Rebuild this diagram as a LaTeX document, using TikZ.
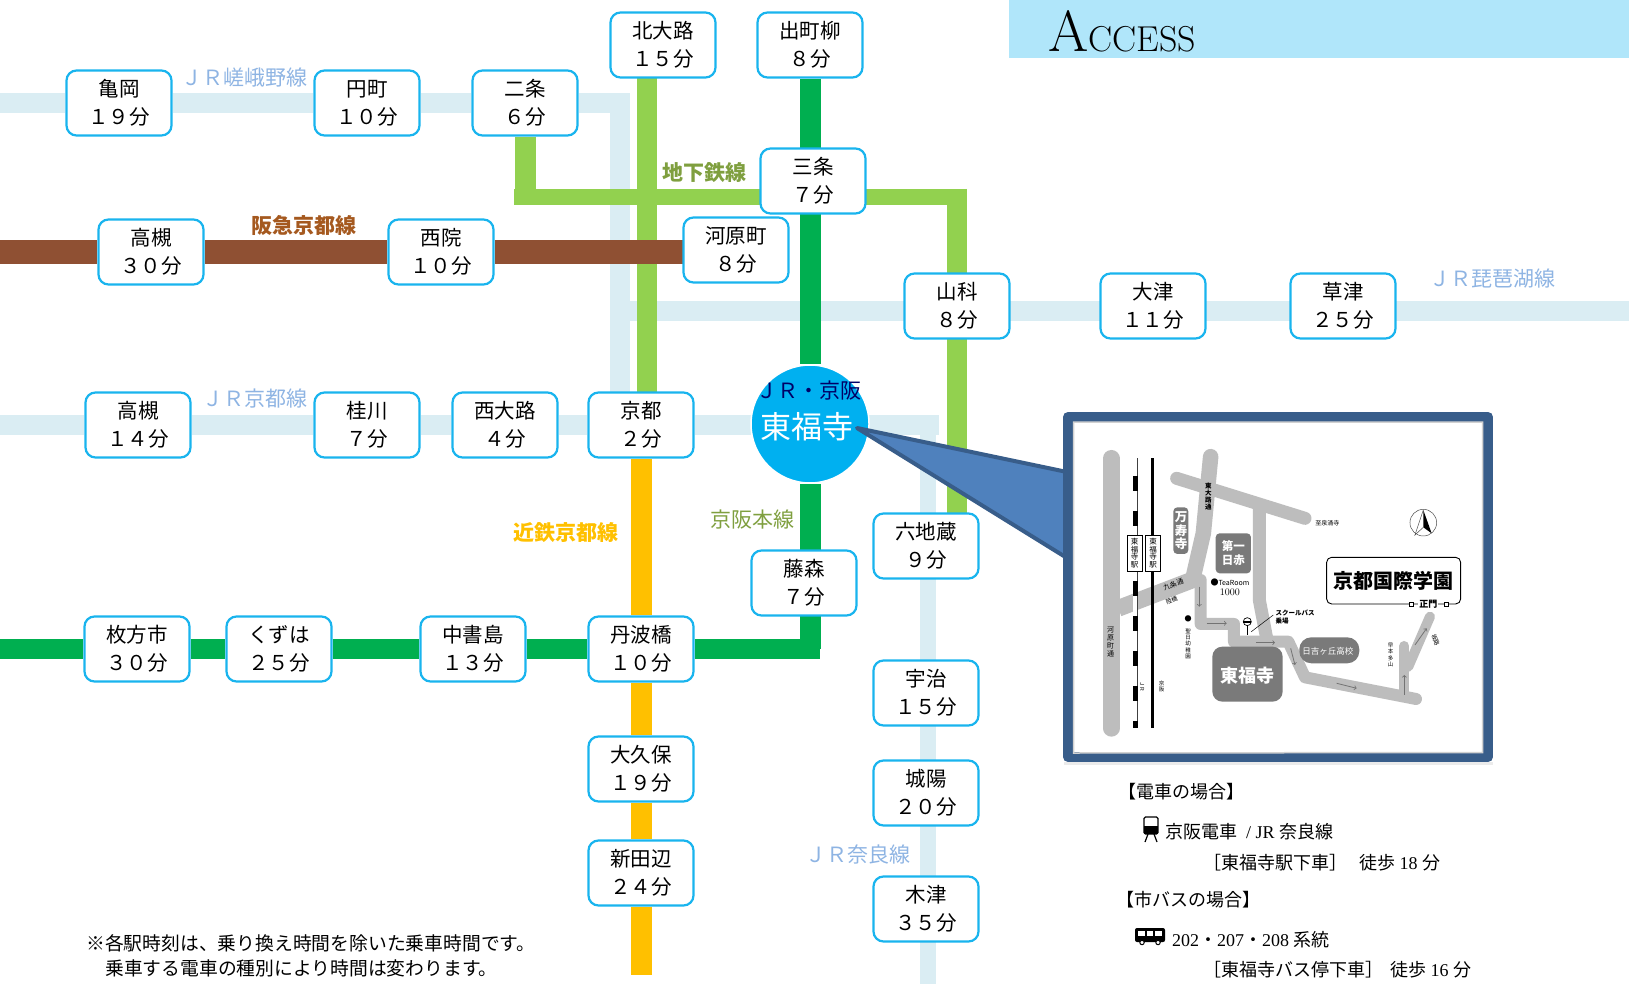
\documentclass[tikz,border=0pt]{standalone}
\usepackage{fontspec}
\usepackage{xcolor}
\newfontfamily\cjk{Noto Sans CJK JP}
\newfontfamily\lat{Liberation Serif}
\usetikzlibrary{positioning,backgrounds}
\definecolor{title-color}{HTML}{B0E6FA}
\definecolor{station-color}{HTML}{19B4EE}
\definecolor{circle-color}{HTML}{00B0F0}
\definecolor{jr-color}{HTML}{DAEDF3}
\definecolor{jrtext-color}{HTML}{8EB4E3}
\definecolor{subway-color}{HTML}{92D14F}
\definecolor{subtext-color}{HTML}{7F9F3F}
\definecolor{keihan-color}{HTML}{00AF50}
\definecolor{hankyu-color}{HTML}{8F5033}
\definecolor{hantext-color}{HTML}{A5591F}
\definecolor{kintetsu-color}{HTML}{FFC000}
\definecolor{frame-color}{HTML}{385D8A}
\definecolor{callout-color}{HTML}{4F81BD}
\definecolor{road-color}{HTML}{BDBDBD}
\definecolor{block-color}{HTML}{7A7A7A}
\tikzset{
  station/.style={draw=station-color, line width=2.2pt, fill=white, rounded corners=10pt,
    minimum width=105pt, minimum height=65pt, align=center, inner sep=0pt,
    font=\cjk\fontsize{20.5}{28}\selectfont},
  linelabel/.style={font=\cjk\fontsize{21}{24}\selectfont, inner sep=0pt},
  infotext/.style={anchor=west, inner sep=0pt, font=\cjk\fontsize{18}{22}\selectfont},
  notetext/.style={anchor=west, inner sep=0pt, font=\cjk\fontsize{18.8}{22}\selectfont},
  road/.style={draw=road-color, line width=#1},
  block/.style={fill=block-color, rounded corners=4pt},
  maplabel/.style={inner sep=0pt, align=center, font=\cjk\fontsize{#1}{#1}\selectfont},
  maparrow/.style={->, draw=black!55, line width=0.8pt},
}
\begin{document}
\begin{tikzpicture}[x=1pt, y=-1pt]
\useasboundingbox (0,0) rectangle (1629,984);

\fill[title-color] (1009,0) rectangle (1629,58);
\node(accesstitle) [anchor=base west, inner sep=0pt] at (1048,52)
  {\fontsize{58}{60}\selectfont A\fontsize{36}{38}\selectfont CCESS};

\begin{scope}[every node/.style={station}]
\node(kameoka) at (119,103) {亀岡\\１９分};
\node(enmachi) at (367,103) {円町\\１０分};
\node(nijo) at (525,103) {二条\\６分};
\node(kitaoji) at (663,45) {北大路\\１５分};
\node(demachi) at (810,45) {出町柳\\８分};
\node(sanjo) at (813,181) {三条\\７分};
\node(kawaramachi) at (736,250) {河原町\\８分};
\node(takatsukiH) at (151,252) {高槻\\３０分};
\node(saiin) at (441,252) {西院\\１０分};
\node(yamashina) at (957,306) {山科\\８分};
\node(otsu) at (1153,306) {大津\\１１分};
\node(kusatsu) at (1343,306) {草津\\２５分};
\node(takatsukiJ) at (138,425) {高槻\\１４分};
\node(katsura) at (367,425) {桂川\\７分};
\node(nishioji) at (505,425) {西大路\\４分};
\node(kyoto) at (641,425) {京都\\２分};
\node(rokujizo) at (926,546) {六地蔵\\９分};
\node(fujimori) at (804,583) {藤森\\７分};
\node(hirakata) at (137,649) {枚方市\\３０分};
\node(kuzuha) at (279,649) {くずは\\２５分};
\node(chushojima) at (473,649) {中書島\\１３分};
\node(tanbabashi) at (641,649) {丹波橋\\１０分};
\node(uji) at (926,693) {宇治\\１５分};
\node(joyo) at (926,793) {城陽\\２０分};
\node(okubo) at (641,769) {大久保\\１９分};
\node(shintanabe) at (641,873) {新田辺\\２４分};
\node(kizu) at (926,909) {木津\\３５分};
\end{scope}

\node(tofukuji) [circle, fill=circle-color, draw=white, line width=1.5pt, minimum size=118pt, inner sep=0pt] at (810,424) {};
\node(tofukujiA) [inner sep=0pt, text=blue!40!black, font=\cjk\fontsize{21}{22}\selectfont] at (809,391) {ＪＲ・京阪};
\node(tofukujiB) [inner sep=0pt, text=white, font=\cjk\fontsize{31}{33}\selectfont] at (807,427) {東福寺};

\coordinate(saganoW) at (0,103);
\coordinate(saganoC) at (620,103);
\coordinate(kyotoW) at (0,425);
\coordinate(kyotoE) at (939,425);
\coordinate(biwakoW) at (630,311);
\coordinate(biwakoE) at (1629,311);
\coordinate(naraN) at (928,416);
\coordinate(naraS) at (928,984);
\coordinate(karaN) at (647,70);
\coordinate(karaS) at (647,420);
\coordinate(tozaiW) at (514,197);
\coordinate(tozaiE) at (967,197);
\coordinate(tozaiC) at (525,205);
\coordinate(tozaiN) at (957,189);
\coordinate(tozaiS) at (957,520);
\coordinate(hankyuW) at (0,252);
\coordinate(hankyuE) at (720,252);
\coordinate(keihanW) at (0,649);
\coordinate(keihanC) at (810,649);
\coordinate(keihanE) at (820,649);
\coordinate(kintetsuS) at (641,975);

\begin{scope}[on background layer]
\draw[jr-color, line width=20pt] (saganoW) -- (kameoka) -- (enmachi) -- (nijo) -- (saganoC) -- (kyotoW -| saganoC);
\draw[jr-color, line width=20pt] (biwakoW) -- (biwakoE);
\draw[jr-color, line width=20pt] (kyotoW) -- (takatsukiJ) -- (katsura) -- (nishioji) -- (kyoto) -- (kyotoE);
\draw[jr-color, line width=16pt] (naraN) -- (naraS);
\draw[subway-color, line width=20pt] (karaN) -- (karaS);
\draw[subway-color, line width=21pt] (nijo) -- (tozaiC);
\draw[subway-color, line width=16pt] (tozaiW) -- (tozaiE);
\draw[subway-color, line width=20pt] (tozaiN) -- (tozaiS);
\draw[hankyu-color, line width=23pt] (hankyuW) -- (takatsukiH) -- (saiin) -- (hankyuE);
\draw[keihan-color, line width=21pt] (demachi) -- (tofukuji) -- (keihanC);
\draw[keihan-color, line width=20pt] (keihanW) -- (hirakata) -- (kuzuha) -- (chushojima) -- (tanbabashi) -- (keihanE);
\draw[kintetsu-color, line width=21pt] (kyoto) -- (tanbabashi) -- (okubo) -- (shintanabe) -- (kintetsuS);
\end{scope}

\node(sagano) [linelabel, text=jrtext-color] at (244,78) {ＪＲ嵯峨野線};
\node(biwako) [linelabel, text=jrtext-color] at (1492,279) {ＪＲ琵琶湖線};
\node(kyotoline) [linelabel, text=jrtext-color] at (255,399) {ＪＲ京都線};
\node(naraline) [linelabel, text=jrtext-color] at (858,855) {ＪＲ奈良線};
\node(hankyuline) [linelabel, text=hantext-color, font=\cjk\bfseries\fontsize{21}{24}\selectfont] at (304,225) {阪急京都線};
\node(subwayline) [linelabel, text=subtext-color, font=\cjk\bfseries\fontsize{21}{24}\selectfont] at (704,173) {地下鉄線};
\node(keihanline) [linelabel, text=subtext-color] at (752,520) {京阪本線};
\node(kintetsuline) [linelabel, text=kintetsu-color, font=\cjk\bfseries\fontsize{21}{24}\selectfont] at (566,533) {近鉄京都線};

\coordinate(tip) at (857,428);
\coordinate(tipU) at (1067,472);
\coordinate(tipL) at (1067,558);
\draw[draw=frame-color, fill=callout-color, line width=4pt, line join=round] (tip) -- (tipU) -- (tipL) -- cycle;

\fill[black!8] (1064,762) rectangle (1493,765);
\draw[draw=frame-color, fill=white, line width=10pt, line join=round] (1068,417) rectangle (1488,757);
\draw[draw=black!18, line width=1.5pt] (1073.5,753) -- (1073.5,422) -- (1482.5,422) -- (1482.5,752.5) -- cycle;

\begin{scope}[shift={(1040,400)}, x=0.3333pt, y=-0.3333pt]
% roads
\draw[road=16.7pt, line cap=round] (214,175) -- (214,985);
\draw[road=16.7pt] (235,625) -- (470,535);
\draw[road=15.5pt, line cap=round, line join=round] (460,530) -- (490,400) -- (512,170);
\draw[road=13pt, line cap=round] (410,235) -- (795,355);
\draw[road=13pt] (658,325) -- (658,600) -- (682,725);
\draw[road=12pt, line join=round, line cap=round] (482,540) -- (482,672) -- (582,672) -- (582,725) -- (745,725) -- (795,832) -- (1128,897);
\draw[road=10pt, line cap=round] (1093,890) -- (1093,738);
\draw[road=10pt, line cap=round] (1105,800) -- (1170,650);
\draw[maparrow] (478,560) -- (478,620);
\draw[maparrow] (500,670) -- (560,670);
\draw[maparrow] (648,728) -- (705,728);
\draw[maparrow] (752,745) -- (765,795);
\draw[maparrow] (890,850) -- (950,865);
\draw[maparrow] (1093,885) -- (1093,825);
\draw[maparrow] (1125,735) -- (1160,685);
% rails
\draw[black!75, line width=5pt] (285,175) -- (285,985);
\draw[white, line width=3.4pt] (285,175) -- (285,985);
\draw[black, line width=5pt, dash pattern=on 15pt off 20pt] (285,228) -- (285,985);
\draw[black, line width=3.2pt] (338,175) -- (338,985);
\node(stnjr) [draw, fill=white, minimum width=14.5pt, minimum height=36pt, line width=0.6pt, maplabel=7.5] at (284,459) {東\\福\\寺\\駅};
\node(stnkh) [draw, fill=white, minimum width=14.5pt, minimum height=36pt, line width=0.6pt, maplabel=7.5] at (339,459) {東\\福\\寺\\駅};
% blocks
\fill[block] (400,322) rectangle (445,462);
\fill[block] (527,400) rectangle (633,520);
\fill[block, rounded corners=10pt] (517,740) rectangle (728,905);
\fill[block, rounded corners=12pt] (778,712) rectangle (958,790);
\node(manju) [maplabel=12.5, text=white, font=\cjk\bfseries\fontsize{12.5}{13.5}\selectfont] at (423,392) {万\\寿\\寺};
\node(sekijuji) [maplabel=11.5, text=white, font=\cjk\bfseries\fontsize{11.5}{14.5}\selectfont] at (580,460) {第一\\日赤};
\node(mapto) [maplabel=18, text=white, font=\cjk\bfseries\fontsize{18}{18}\selectfont] at (622,826) {東福寺};
\node(hiyoshi) [maplabel=8.5, text=white] at (864,753) {日吉ヶ丘高校};
% school
\draw[black, line width=0.9pt, rounded corners=5pt] (860,472) rectangle (1262,612);
\node(gakuen) [maplabel=20, font=\cjk\bfseries\fontsize{20}{20}\selectfont] at (1062,544) {京都国際学園};
\node(seimon) [fill=white, maplabel=9, inner sep=1pt, font=\cjk\bfseries\fontsize{9}{9}\selectfont] at (1165,612) {正門};
\draw[fill=white, line width=0.7pt] (1109,606) rectangle (1121,618);
\draw[fill=white, line width=0.7pt] (1212,606) rectangle (1224,618);
% small labels
\node(sennyu) [maplabel=6] at (862,369) {至泉涌寺};
\node(higashioji) [maplabel=6.5, font=\cjk\bfseries\fontsize{6.5}{7}\selectfont] at (505,290) {東\\大\\路\\通};
\node(kujo) [maplabel=7, rotate=20] at (400,553) {九条通};
\node(rikkyo) [maplabel=6, rotate=20] at (395,602) {陸橋};
\node(kawaramachir) [maplabel=7, font=\cjk\fontsize{7}{8}\selectfont] at (212,727) {河\\原\\町\\通};
\node(jrmark) [maplabel=5.5, rotate=-90] at (306,860) {ＪＲ};
\node(keihanmark) [maplabel=5.5, font=\cjk\fontsize{5.5}{6}\selectfont] at (365,860) {京\\阪};
\node(tearoom) [maplabel=8, anchor=west, font=\fontsize{8}{9.5}\selectfont] at (511,562) {\cjk ●\fontsize{7}{8}\selectfont TeaRoom\\\fontsize{10}{10}\selectfont 1000};
\node(kindmark) [maplabel=7] at (444,657) {●};
\node(kinder) [maplabel=5.5, font=\cjk\fontsize{5.5}{6.2}\selectfont] at (444,732) {聖\\日\\幼\\稚\\園};
\node(schoolbus) [maplabel=6.5, anchor=west, align=left, font=\cjk\bfseries\fontsize{6.5}{8}\selectfont] at (706,650) {スクールバス\\乗場};
\node(honda) [maplabel=5.5, font=\cjk\fontsize{5.5}{6.2}\selectfont] at (1052,765) {早\\本\\多\\山};
\node(sakamichi) [maplabel=6, rotate=-70] at (1187,720) {坂路};
% bus stop
\draw[black, line width=0.7pt] (622,665) circle (12);
\fill[black] (610,662) rectangle (634,668);
\draw[black, line width=0.7pt] (622,677) -- (622,705);
\draw[black, line width=0.5pt] (634,695) -- (700,645);
% compass
\draw[black!70, line width=0.5pt] (1150,368) circle (40);
\draw[black!70, line width=0.5pt] (1150,330) -- (1125,405) -- (1150,382);
\fill[black] (1150,330) -- (1175,400) -- (1150,382) -- cycle;
\end{scope}

\node(deninfo) [infotext] at (1118,792) {【電車の場合】};
\node(deninfoA) [infotext] at (1165,832) {京阪電車{\lat\ \ /\ JR }奈良線};
\node(deninfoB) [infotext] at (1203,863) {［東福寺駅下車］\hspace{12pt}徒歩{\lat\ 18 }分};
\node(businfo) [infotext] at (1116,900) {【市バスの場合】};
\node(businfoA) [infotext] at (1172,940) {{\lat 202}・{\lat 207}・{\lat 208 }系統};
\node(businfoB) [infotext] at (1203,970) {［東福寺バス停下車］\hspace{7pt}徒歩{\lat\ 16 }分};
\node(noteA) [notetext] at (86,943) {※各駅時刻は、乗り換え時間を除いた乗車時間です。};
\node(noteB) [notetext] at (105,968) {乗車する電車の種別により時間は変わります。};

% train icon
\draw[black, line width=1.2pt, rounded corners=1.5pt] (1144,817) rectangle (1158,834);
\fill[black] (1144,826) rectangle (1158,834);
\draw[black, line width=1.2pt] (1148,834) -- (1145,842);
\draw[black, line width=1.2pt] (1154,834) -- (1157,842);
% bus icon
\fill[black, rounded corners=2pt] (1135,928) rectangle (1165,942);
\fill[white] (1138,930.5) rectangle (1145,936);
\fill[white] (1147,930.5) rectangle (1153,936);
\fill[white] (1155,930.5) rectangle (1162,936);
\draw[black, fill=white, line width=1pt] (1142,942.5) circle (2.2);
\draw[black, fill=white, line width=1pt] (1158,942.5) circle (2.2);
\end{tikzpicture}
\end{document}
